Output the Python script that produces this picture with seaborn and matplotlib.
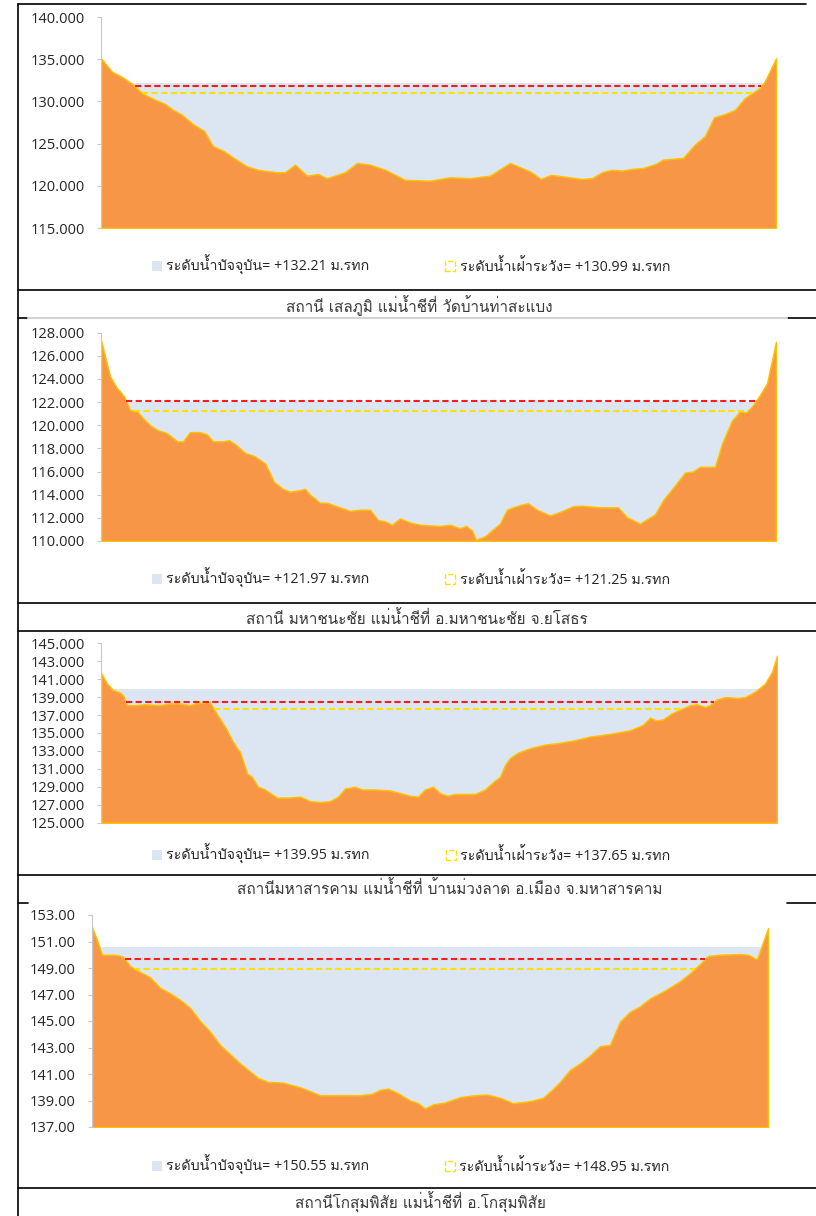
import numpy as np
import matplotlib
matplotlib.use("Agg")
import matplotlib.pyplot as plt
import seaborn as sns
from matplotlib.lines import Line2D
from matplotlib.patches import Patch
from matplotlib.ticker import FormatStrFormatter

# ---- data (x = distance across section, y = bed level m.MSL) ----
sela_x = [0, 11, 21, 31, 42, 54, 64, 72, 81, 92, 103, 112, 123, 134, 146, 157, 175, 184,
          194, 206, 217, 226, 244, 256, 269, 284, 304, 329, 349, 369, 389, 409, 419, 429,
          440, 450, 481, 491, 501, 511, 521, 531, 542, 555, 562, 582, 594, 604, 613, 624,
          634, 644, 659, 664, 675]
sela_bed = [135.1, 133.5, 132.9, 132.1, 130.9, 130.2, 129.7, 129.0, 128.4, 127.3, 126.5,
            124.7, 124.1, 123.2, 122.3, 121.9, 121.6, 121.6, 122.5, 121.2, 121.4, 120.9,
            121.6, 122.7, 122.5, 121.9, 120.7, 120.6, 121.0, 120.9, 121.2, 122.7, 122.2,
            121.7, 120.8, 121.3, 120.8, 120.9, 121.6, 121.9, 121.8, 122.0, 122.1, 122.6,
            123.1, 123.3, 124.9, 125.9, 128.1, 128.5, 129.0, 130.4, 131.6, 132.4, 135.1]

maha_x = [0, 9, 16, 23, 29, 36, 42, 49, 56, 66, 72, 76, 82, 89, 99, 106, 112, 121, 128,
          135, 144, 154, 164, 173, 182, 189, 199, 204, 209, 219, 226, 239, 249, 259, 269,
          277, 284, 291, 299, 309, 319, 339, 349, 359, 365, 371, 375, 384, 392, 399, 406,
          412, 419, 427, 436, 449, 459, 472, 482, 499, 517, 526, 539, 554, 562, 574, 584,
          592, 599, 614, 621, 631, 639, 645, 651, 659, 666, 675]
maha_bed = [127.35, 124.2, 123.2, 122.5, 121.3, 121.2, 120.6, 120.0, 119.6, 119.3, 118.9,
            118.6, 118.6, 119.4, 119.4, 119.2, 118.6, 118.6, 118.7, 118.3, 117.6, 117.3,
            116.7, 115.1, 114.5, 114.25, 114.4, 114.5, 114.0, 113.3, 113.3, 112.9, 112.6,
            112.7, 112.7, 111.8, 111.7, 111.4, 111.95, 111.6, 111.4, 111.3, 111.4, 111.1,
            111.3, 110.9, 110.1, 110.4, 111.0, 111.5, 112.7, 112.9, 113.1, 113.25, 112.7,
            112.2, 112.5, 113.0, 113.05, 112.9, 112.9, 112.05, 111.5, 112.3, 113.5, 114.8,
            115.9, 116.0, 116.4, 116.4, 118.4, 120.4, 121.2, 121.1, 121.6, 122.6, 123.6,
            127.2]

mks_x = [0, 6, 12, 19, 22, 26, 34, 44, 59, 69, 79, 89, 94, 104, 109, 117, 124, 131, 136,
         139, 146, 151, 157, 164, 169, 176, 189, 199, 209, 219, 229, 237, 244, 254, 261,
         274, 289, 299, 309, 317, 324, 332, 339, 346, 354, 374, 384, 394, 399, 404, 409,
         417, 429, 444, 459, 474, 489, 509, 529, 542, 549, 555, 562, 571, 579, 589, 596,
         604, 609, 615, 624, 637, 644, 654, 664, 671, 676]
mks_bed = [141.7, 140.5, 139.8, 139.5, 139.2, 138.1, 138.1, 138.2, 138.1, 138.3, 138.3,
           138.1, 138.3, 138.4, 138.4, 136.9, 135.7, 134.2, 133.3, 132.9, 130.5, 130.1,
           129.0, 128.7, 128.3, 127.8, 127.8, 127.9, 127.4, 127.3, 127.4, 127.9, 128.8,
           129.0, 128.7, 128.7, 128.6, 128.3, 128.0, 127.9, 128.7, 129.0, 128.3, 128.0,
           128.2, 128.2, 128.7, 129.7, 130.1, 131.4, 132.2, 132.8, 133.3, 133.7, 133.9,
           134.2, 134.6, 134.9, 135.3, 135.9, 136.7, 136.4, 136.5, 137.2, 137.6, 138.1,
           138.2, 137.9, 138.1, 138.7, 139.0, 138.9, 139.0, 139.6, 140.5, 141.8, 143.6]

kos_x = [0, 5, 10, 23, 31, 38, 48, 58, 68, 78, 88, 98, 108, 118, 128, 138, 148, 158, 166,
         176, 191, 198, 208, 218, 228, 248, 268, 280, 288, 296, 306, 318, 326, 333, 341,
         353, 368, 383, 395, 408, 421, 433, 441, 451, 460, 468, 478, 488, 498, 508, 518,
         528, 538, 548, 558, 573, 588, 598, 608, 616, 628, 648, 656, 665, 676]
kos_bed = [152.1, 151.1, 150.0, 150.0, 149.85, 149.15, 148.7, 148.3, 147.5, 147.1, 146.6,
           146.0, 145.0, 144.2, 143.2, 142.5, 141.8, 141.2, 140.7, 140.4, 140.35, 140.2,
           140.0, 139.7, 139.4, 139.4, 139.4, 139.5, 139.8, 139.9, 139.55, 139.0, 138.8,
           138.4, 138.7, 138.85, 139.25, 139.4, 139.45, 139.2, 138.8, 138.9, 139.0, 139.2,
           139.8, 140.4, 141.3, 141.8, 142.4, 143.1, 143.2, 144.95, 145.7, 146.1, 146.7,
           147.3, 148.0, 148.6, 149.3, 149.9, 150.0, 150.05, 150.0, 149.65, 152.0]

current_level = [132.21, 121.97, 139.95, 150.55]
watch_level = [130.99, 121.25, 137.65, 148.95]
bank_level = [131.80, 122.05, 138.45, 149.70]

captions = [
    "สถานี เสลภูมิ แม่น้ำชีที่ วัดบ้านท่าสะแบง",
    "สถานี มหาชนะชัย แม่น้ำชีที่ อ.มหาชนะชัย จ.ยโสธร",
    "สถานีมหาสารคาม แม่น้ำชีที่ บ้านม่วงลาด อ.เมือง จ.มหาสารคาม",
    "สถานีโกสุมพิสัย แม่น้ำชีที่ อ.โกสุมพิสัย",
]
y_ranges = [(115, 140, 5), (110, 128, 2), (125, 145, 2), (137, 153, 2)]
y_formats = ["%.3f", "%.3f", "%.3f", "%.2f"]

sections = [(sela_x, sela_bed), (maha_x, maha_bed), (mks_x, mks_bed), (kos_x, kos_bed)]

# ---- fonts ----
sns.set_theme(style="white")
# Loma places the Thai tone marks so they stay readable without text shaping
legend_family = ["Open Sans", "Loma", "DejaVu Sans"]
caption_family = ["Loma", "DejaVu Sans"]
plt.rcParams["font.family"] = ["Open Sans", "DejaVu Sans"]

# ---- layout (pixels) ----
W, H = 816, 1216
axes_px = [(101, 17, 776, 228), (101, 332.5, 776, 541),
           (101, 643.3, 777, 822.7), (92, 915, 768, 1127)]
legend_y = [265, 578, 854, 1165]
caption_pos = [(419, 306), (417, 619), (450, 889), (420, 1202)]

orange = "#F79646"
edge = "#FFC000"
blue = "#DCE6F2"
red = "#FF1A1A"
yellow = "#FFE100"


def wet_span(x, z, level):
    # stretch of the channel (around its deepest point) that lies under the level
    i0 = i1 = int(np.argmin(z))
    while i0 > 0 and z[i0 - 1] < level:
        i0 -= 1
    while i1 < len(z) - 1 and z[i1 + 1] < level:
        i1 += 1
    left, right = x[i0], x[i1]
    if i0 > 0:
        left = np.interp(level, [z[i0], z[i0 - 1]], [x[i0], x[i0 - 1]])
    if i1 < len(x) - 1:
        right = np.interp(level, [z[i1], z[i1 + 1]], [x[i1], x[i1 + 1]])
    return left, right


fig = plt.figure(figsize=(W / 100, H / 100), dpi=100)

for i, (xs, bed) in enumerate(sections):
    l, t, r, b = axes_px[i]
    ax = fig.add_axes([l / W, 1 - b / H, (r - l) / W, (b - t) / H])
    x = np.array(xs, dtype=float)
    z = np.array(bed)
    ymin, ymax, step = y_ranges[i]

    w0, w1 = wet_span(x, z, current_level[i])
    ax.fill_between([w0, w1], ymin, current_level[i], color=blue, linewidth=0, zorder=1)
    ax.fill_between(x, ymin, z, facecolor=orange, edgecolor=edge, linewidth=1.1, zorder=2)

    for lvl, col in [(bank_level[i], red), (watch_level[i], yellow)]:
        s0, s1 = wet_span(x, z, lvl)
        sns.lineplot(x=[s0, s1], y=[lvl, lvl], color=col, lw=1.5, ax=ax, zorder=3)
        ax.lines[-1].set_dashes([3, 1.6])

    ax.set_xlim(x[0], x[-1])
    ax.set_ylim(ymin, ymax)
    ax.set_yticks(np.arange(ymin, ymax + 0.1, step))
    ax.yaxis.set_major_formatter(FormatStrFormatter(y_formats[i]))
    ax.set_xticks([])
    for s in ["top", "right", "bottom"]:
        ax.spines[s].set_visible(False)
    ax.spines["left"].set_color("#C8C8C8")
    ax.spines["left"].set_linewidth(0.8)
    ax.tick_params(axis="y", left=True, length=3, width=0.8, color="#C8C8C8",
                   pad=8.5, labelsize=10.5, labelcolor="#262626")
    ax.set_facecolor("none")

    handles = [Patch(facecolor=blue, edgecolor="none"),
               Patch(facecolor="white", edgecolor=yellow, linestyle="--", linewidth=1)]
    labels = [f"ระดับน้ำปัจจุบัน= +{current_level[i]:.2f} ม.รทก",
              f"ระดับน้ำเฝ้าระวัง= +{watch_level[i]:.2f} ม.รทก"]
    fig.legend(handles, labels, loc="center left", ncol=2, frameon=False,
               bbox_to_anchor=(139 / W, 1 - legend_y[i] / H),
               handlelength=0.7, handleheight=0.7, handletextpad=0.3,
               columnspacing=5.3, prop={"family": legend_family, "size": 10.3})

    cx, cy = caption_pos[i]
    fig.text(cx / W, 1 - cy / H, captions[i], ha="center", va="center",
             family=caption_family, size=11, color="#3A3A3A")


def hline(y, x0, x1, color="black", lw=1.2):
    fig.add_artist(Line2D([x0 / W, x1 / W], [1 - y / H, 1 - y / H],
                          transform=fig.transFigure, color=color, lw=lw))


# table borders around the four panels
hline(4, 18, 806)
for y in [290, 603, 631, 875, 1188]:
    hline(y, 18, 816)
for y in [318, 903]:
    hline(y, 18, 28)
    hline(y, 787, 816)
hline(318, 28, 787, color="#D4D4D4", lw=1.5)
fig.add_artist(Line2D([18 / W, 18 / W], [1 - 4 / H, 0], transform=fig.transFigure,
                      color="black", lw=1.2))

fig.savefig("out.png", dpi=100)
